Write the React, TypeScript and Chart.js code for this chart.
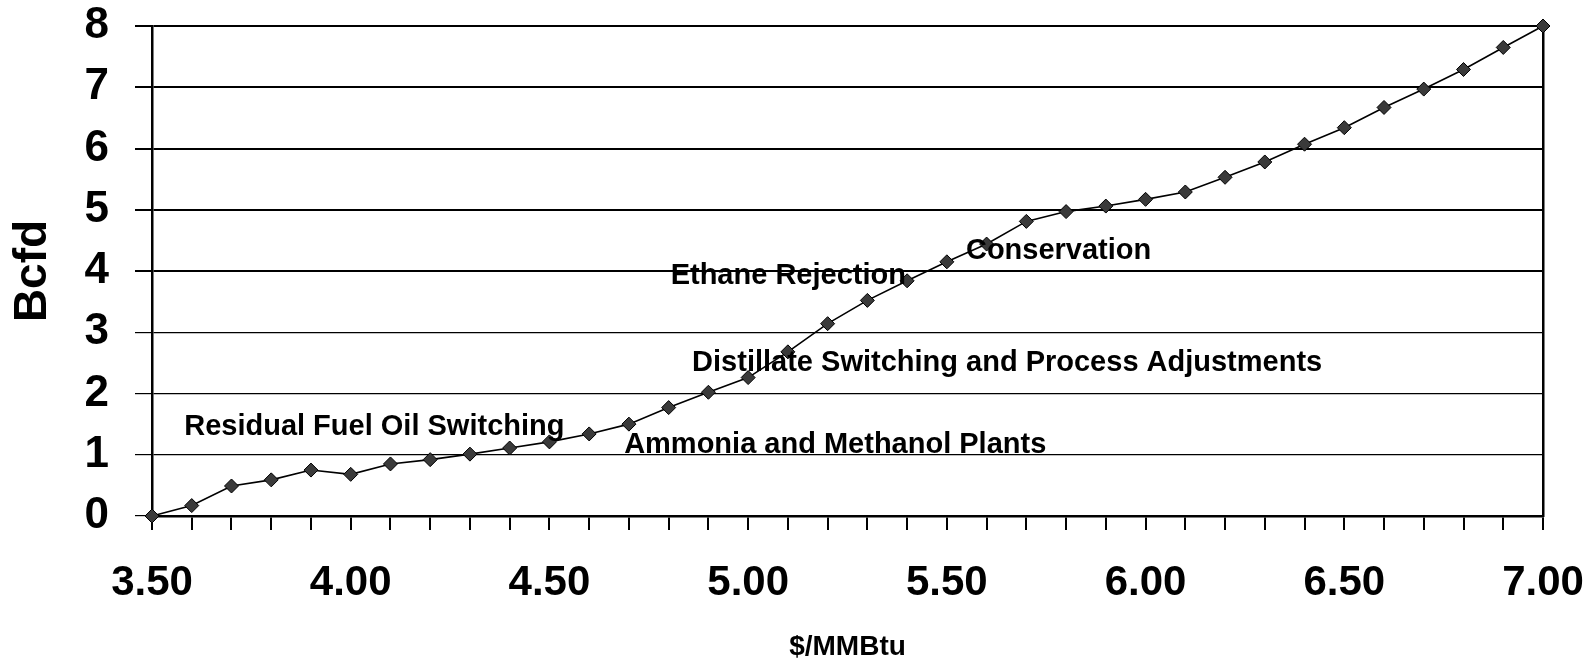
import React, { useEffect, useRef } from "react";
import { Chart, registerables } from "chart.js";

Chart.register(...registerables);

// Price ($/MMBtu)
const prices = [
  3.5, 3.6, 3.7, 3.8, 3.9, 4.0, 4.1, 4.2, 4.3, 4.4, 4.5, 4.6,
  4.7, 4.8, 4.9, 5.0, 5.1, 5.2, 5.3, 5.4, 5.5, 5.6, 5.7, 5.8,
  5.9, 6.0, 6.1, 6.2, 6.3, 6.4, 6.5, 6.6, 6.7, 6.8, 6.9, 7.0,
];
// Demand reduction (Bcfd)
const bcfd = [
  0.0, 0.17, 0.49, 0.59, 0.75, 0.68, 0.85, 0.92, 1.01, 1.11, 1.21, 1.34,
  1.5, 1.77, 2.02, 2.26, 2.68, 3.14, 3.52, 3.84, 4.15, 4.44, 4.81, 4.97,
  5.06, 5.17, 5.29, 5.53, 5.78, 6.07, 6.34, 6.67, 6.97, 7.29, 7.65, 8.0,
];

const annotationTexts = [
  "Residual Fuel Oil Switching",
  "Ammonia and Methanol Plants",
  "Distillate Switching and Process Adjustments",
  "Ethane Rejection",
  "Conservation",
];
const annotationPrice = [3.581, 4.688, 4.859, 4.805, 5.548];
const annotationBcfd = [1.32, 1.03, 2.36, 3.79, 4.2];

const FONT = '"Liberation Sans", Arial, sans-serif';

const annotationPlugin = {
  id: "curveLabels",
  afterDatasetsDraw(chart: any) {
    const { ctx, scales } = chart;
    ctx.save();
    ctx.font = `bold 29px ${FONT}`;
    ctx.fillStyle = "#000";
    ctx.textAlign = "left";
    ctx.textBaseline = "alphabetic";
    annotationTexts.forEach((t, i) => {
      ctx.fillText(
        t,
        scales.x.getPixelForValue(annotationPrice[i]),
        scales.y.getPixelForValue(annotationBcfd[i])
      );
    });
    ctx.restore();
  },
};

const zeroPadding = (s: any) => {
  s.paddingLeft = 0;
  s.paddingRight = 0;
  s.paddingTop = 0;
  s.paddingBottom = 0;
};

export default function App() {
  const ref = useRef<HTMLCanvasElement | null>(null);
  useEffect(() => {
    if (!ref.current) return;
    const chart = new Chart(ref.current, {
      type: "line",
      data: {
        datasets: [
          {
            data: prices.map((p, i) => ({ x: p, y: bcfd[i] })),
            borderColor: "#000",
            borderWidth: 1.6,
            pointStyle: "rectRot",
            pointRadius: 7,
            pointBackgroundColor: "#3a3a3a",
            pointBorderColor: "#000",
            pointBorderWidth: 1,
            clip: 20,
          } as any,
        ],
      },
      options: {
        animation: false,
        responsive: true,
        maintainAspectRatio: false,
        layout: { padding: { top: 26, right: 44, left: 0, bottom: 0 } },
        plugins: { legend: { display: false }, tooltip: { enabled: false } },
        scales: {
          x: {
            type: "linear",
            min: 3.5,
            max: 7.0,
            afterFit: (s: any) => {
              s.height = 145;
              zeroPadding(s);
            },
            ticks: {
              stepSize: 0.1,
              autoSkip: false,
              maxRotation: 0,
              padding: 28,
              color: "#000",
              font: { family: FONT, size: 42, weight: "bold" },
              callback: (v: any) => {
                const n = Number(v);
                return Math.abs(n * 2 - Math.round(n * 2)) < 1e-6 ? n.toFixed(2) : "";
              },
            },
            grid: {
              drawOnChartArea: false,
              tickLength: 14,
              color: "#000",
              lineWidth: 2,
            },
            border: { display: true, color: "#000", width: 2.5 },
            title: {
              display: true,
              text: "$/MMBtu",
              color: "#000",
              font: { family: FONT, size: 28, weight: "bold", lineHeight: 1.1 },
              padding: { top: 0, bottom: -2 },
            },
          },
          y: {
            min: 0,
            max: 8,
            afterFit: (s: any) => {
              s.width = 152;
              zeroPadding(s);
            },
            ticks: {
              stepSize: 1,
              padding: 26,
              color: "#000",
              font: { family: FONT, size: 44, weight: "bold", lineHeight: 1.1 },
            },
            grid: {
              tickLength: 17,
              color: "#000",
              lineWidth: (c: any) => (c.tick && c.tick.value >= 4 ? 2 : 1.2),
            },
            border: { display: true, color: "#000", width: 2.5 },
            title: {
              display: true,
              text: "Bcfd",
              color: "#000",
              font: { family: FONT, size: 46, weight: "bold", lineHeight: 1.2 },
              padding: { top: 6, bottom: 0 },
            },
          },
          y2: {
            position: "right",
            min: 0,
            max: 8,
            afterFit: (s: any) => {
              s.width = 0;
              zeroPadding(s);
            },
            ticks: { display: false },
            grid: { drawOnChartArea: false, drawTicks: false },
            border: { display: true, color: "#000", width: 2.5 },
          },
        },
      } as any,
      plugins: [annotationPlugin],
    });
    return () => chart.destroy();
  }, []);
  return (
    <div style={{ position: "fixed", left: 0, top: 0, width: 1587, height: 661, background: "#fff" }}>
      <canvas ref={ref} />
    </div>
  );
}
